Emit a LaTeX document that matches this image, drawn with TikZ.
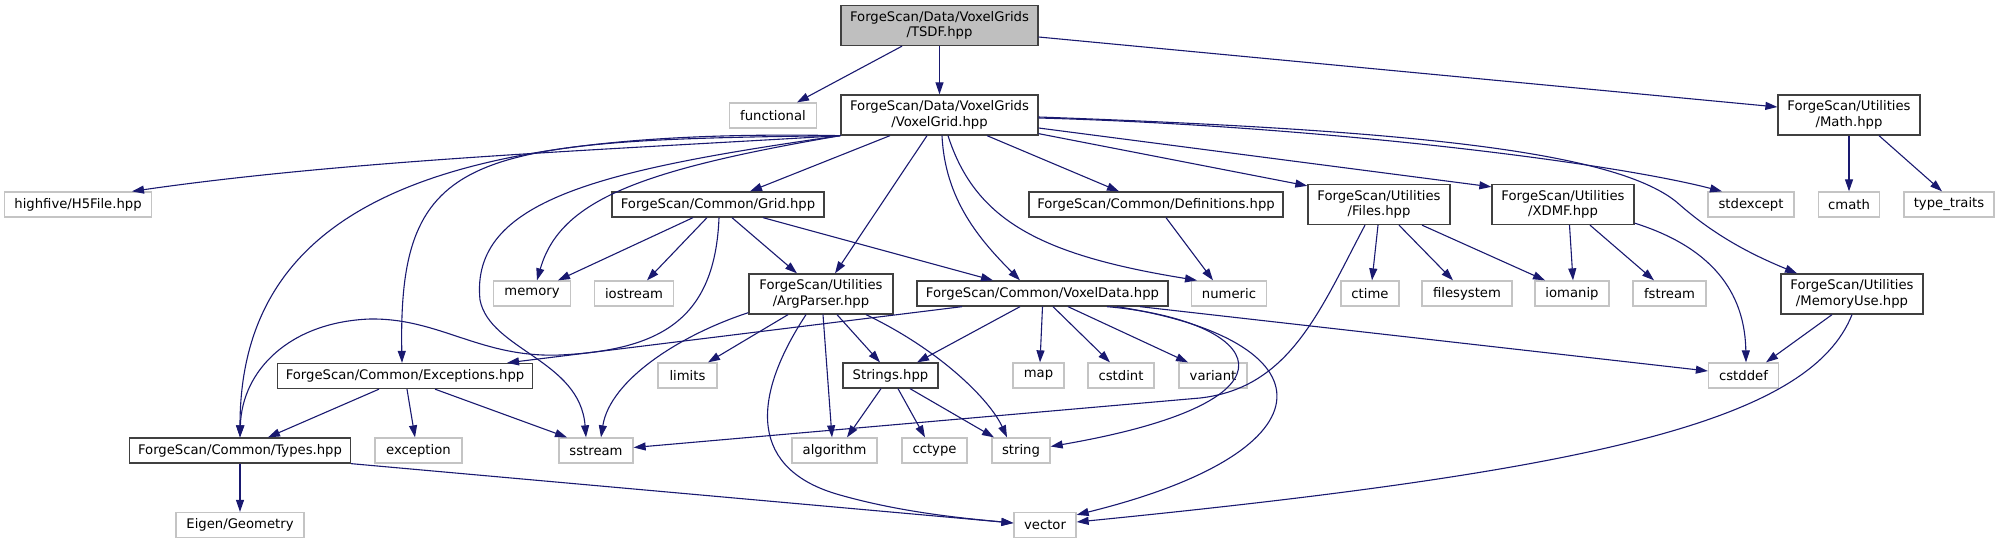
\documentclass[tikz,border=0pt]{standalone}
\usepackage{fontspec}
\setmainfont{DejaVu Sans}
\usepackage{tikz}
\usetikzlibrary{arrows.meta, positioning}
\usepackage{xcolor}
\definecolor{edgeblue}{RGB}{25, 25, 112}
\definecolor{boxgray}{RGB}{64, 64, 64}
\definecolor{extgray}{RGB}{196, 196, 196}
\definecolor{mainfill}{RGB}{191, 191, 191}
\newcommand{\dxfont}{\fontsize{13.2}{15.5}\selectfont}

\begin{document}
\begin{tikzpicture}[
    x=1pt, y=-1pt,
    block/.style={
        rectangle,
        draw=boxgray,
        line width=1.3pt,
        fill=white,
        align=center,
        inner sep=0pt,
        minimum height=25pt,
        font=\dxfont
    },
    tall/.style={minimum height=40pt},
    ext/.style={block, draw=extgray},
    line/.style={draw=edgeblue, line width=1.1pt, -{Triangle[length=12pt, width=8pt]}}
]
    \useasboundingbox (0,0) rectangle (2009,544);

    % Nodes
    \node [block, tall, fill=mainfill, minimum width=197pt] (tsdf) at (939.5,25.5) {ForgeScan/Data/VoxelGrids\\/TSDF.hpp};

    \node [ext, minimum width=87pt] (functional) at (773,115.5) {functional};
    \node [block, tall, minimum width=197pt] (voxelgrid) at (939.5,115) {ForgeScan/Data/VoxelGrids\\/VoxelGrid.hpp};
    \node [block, tall, minimum width=142pt] (math) at (1849,115) {ForgeScan/Utilities\\/Math.hpp};

    \node [ext, minimum width=147pt] (highfive) at (78,204.5) {highfive/H5File.hpp};
    \node [block, minimum width=212pt] (grid) at (718,204.5) {ForgeScan/Common/Grid.hpp};
    \node [block, minimum width=254pt] (defs) at (1156,204.5) {ForgeScan/Common/Definitions.hpp};
    \node [block, tall, minimum width=142pt] (files) at (1379,204.5) {ForgeScan/Utilities\\/Files.hpp};
    \node [block, tall, minimum width=142pt] (xdmf) at (1563,204.5) {ForgeScan/Utilities\\/XDMF.hpp};
    \node [ext, minimum width=86pt] (stdexcept) at (1751,204.5) {stdexcept};
    \node [ext, minimum width=61pt] (cmath) at (1849,204.5) {cmath};
    \node [ext, minimum width=90pt] (typetraits) at (1949,204.5) {type\_traits};

    \node [ext, minimum width=77pt] (memory) at (532,293.5) {memory};
    \node [ext, minimum width=79pt] (iostream) at (634,293.5) {iostream};
    \node [block, tall, minimum width=144pt] (argparser) at (821,294) {ForgeScan/Utilities\\/ArgParser.hpp};
    \node [block, minimum width=251pt] (voxeldata) at (1042.5,293.5) {ForgeScan/Common/VoxelData.hpp};
    \node [ext, minimum width=75pt] (numeric) at (1229,293.5) {numeric};
    \node [ext, minimum width=58pt] (ctime) at (1370,293.5) {ctime};
    \node [ext, minimum width=90pt] (filesystem) at (1467,293.5) {filesystem};
    \node [ext, minimum width=74pt] (iomanip) at (1572,293.5) {iomanip};
    \node [ext, minimum width=73pt] (fstream) at (1669.5,293.5) {fstream};
    \node [block, tall, minimum width=142pt] (memoryuse) at (1852,294) {ForgeScan/Utilities\\/MemoryUse.hpp};

    \node [block, minimum width=255pt] (exceptions) at (405,376) {ForgeScan/Common/Exceptions.hpp};
    \node [ext, minimum width=59pt] (limits) at (687.5,375.5) {limits};
    \node [block, minimum width=95pt] (strings) at (890.5,375.5) {Strings.hpp};
    \node [ext, minimum width=51pt] (map) at (1038.5,375.5) {map};
    \node [ext, minimum width=66pt] (cstdint) at (1121,375.5) {cstdint};
    \node [ext, minimum width=68pt] (variant) at (1213,375.5) {variant};
    \node [ext, minimum width=70pt] (cstddef) at (1743.5,375.5) {cstddef};

    \node [block, minimum width=221pt] (types) at (240,450.5) {ForgeScan/Common/Types.hpp};
    \node [ext, minimum width=87pt] (exception) at (418.5,450.5) {exception};
    \node [ext, minimum width=74pt] (sstream) at (596,450.5) {sstream};
    \node [ext, minimum width=85pt] (algorithm) at (834.5,450.5) {algorithm};
    \node [ext, minimum width=65pt] (cctype) at (934.5,450.5) {cctype};
    \node [ext, minimum width=58pt] (string) at (1021,450.5) {string};

    \node [ext, minimum width=128pt] (eigen) at (240,525) {Eigen/Geometry};
    \node [ext, minimum width=62pt] (vector) at (1045,525) {vector};

    % Edges from TSDF.hpp
    \path [line] ([xshift=-37.5pt]tsdf.south) -- ([xshift=24pt]functional.north);
    \path [line] (tsdf.south) -- (voxelgrid.north);
    \path [line] ([yshift=-11.5pt]tsdf.east) -- ([yshift=8pt]math.west);

    % Edges from VoxelGrid.hpp
    \path [line] (voxelgrid.south west) .. controls (600,150) and (350,160) .. ([xshift=54pt]highfive.north);
    \path [line] (voxelgrid.south west) .. controls (450,128) and (240,200) .. (types.north);
    \path [line] (voxelgrid.south west) .. controls (470,140) and (398,150) .. ([xshift=-3pt]exceptions.north);
    \path [line] (voxelgrid.south west) .. controls (600,170) and (470,200) .. (480,300)
        .. controls (490,350) and (580,360) .. ([xshift=-10pt]sstream.north);
    \path [line] (voxelgrid.south west) .. controls (640,170) and (560,200) .. ([xshift=5pt]memory.north);
    \path [line] ([xshift=-49.5pt]voxelgrid.south) -- ([xshift=32pt]grid.north);
    \path [line] ([xshift=-12.5pt]voxelgrid.south) -- ([xshift=14pt]argparser.north);
    \path [line] ([xshift=2.5pt]voxelgrid.south) .. controls (945,200) and (980,240) .. ([xshift=-22.5pt]voxeldata.north);
    \path [line] ([xshift=8.5pt]voxelgrid.south) .. controls (975,220) and (1040,255) .. ([xshift=-32pt]numeric.north);
    \path [line] ([xshift=47.5pt]voxelgrid.south) -- ([xshift=-37pt]defs.north);
    \path [line] ([yshift=2pt]voxelgrid.south east) -- ([yshift=-2pt]files.north west);
    \path [line] ([yshift=-13pt]voxelgrid.east) -- ([yshift=-3pt]xdmf.north west);
    \path [line] ([yshift=-3pt]voxelgrid.east) .. controls (1300,125) and (1600,160) .. ([xshift=-29pt]stdexcept.north);
    \path [line] ([yshift=-2pt]voxelgrid.east) .. controls (1400,130) and (1620,150) .. (1680,205)
        .. controls (1720,240) and (1760,258) .. ([xshift=-55pt]memoryuse.north);

    % Edges from Grid.hpp
    \path [line] ([xshift=-25pt]grid.south) -- ([xshift=26pt]memory.north);
    \path [line] ([xshift=-11pt]grid.south) -- ([xshift=13pt]iostream.north);
    \path [line] ([xshift=14pt]grid.south) -- ([xshift=-24pt]argparser.north);
    \path [line] ([xshift=45pt]grid.south) -- ([xshift=-49.5pt]voxeldata.north);
    \path [line] ([xshift=1pt]grid.south) .. controls (715,320) and (660,350) .. (560,355)
        .. controls (480,358) and (440,318) .. (370,319)
        .. controls (290,322) and (242,370) .. (types.north);

    % Edges from Definitions, Files, XDMF, MemoryUse, Math
    \path [line] ([xshift=10pt]defs.south) -- ([xshift=-16pt]numeric.north);
    \path [line] ([xshift=-1pt]files.south) -- ([xshift=2pt]ctime.north);
    \path [line] ([xshift=20pt]files.south) -- ([xshift=-14pt]filesystem.north);
    \path [line] ([xshift=43pt]files.south) -- ([xshift=-27pt]iomanip.north);
    \path [line] ([xshift=-14pt]files.south) .. controls (1320,310) and (1290,388) .. (1200,398) -- ([yshift=3pt]sstream.east);
    \path [line] ([xshift=6.5pt]xdmf.south) -- ([xshift=1pt]iomanip.north);
    \path [line] ([xshift=27pt]xdmf.south) -- ([xshift=-15.5pt]fstream.north);
    \path [line] ([yshift=2pt]xdmf.south east) .. controls (1720,250) and (1745,300) .. ([xshift=2.5pt]cstddef.north);
    \path [line] ([xshift=-20pt]memoryuse.south) -- ([xshift=22.5pt]cstddef.north);
    \path [line] (memoryuse.south) .. controls (1810,420) and (1600,470) .. ([yshift=3pt]vector.east);
    \path [line] (math.south) -- (cmath.north);
    \path [line] ([xshift=30pt]math.south) -- ([xshift=-7pt]typetraits.north);

    % Edges from VoxelData.hpp
    \path [line] ([xshift=-80.5pt]voxeldata.south) -- ([xshift=102pt]exceptions.north);
    \path [line] ([xshift=-22.5pt]voxeldata.south) -- ([xshift=26.5pt]strings.north);
    \path [line] (voxeldata.south) -- ([xshift=1.5pt]map.north);
    \path [line] ([xshift=10.5pt]voxeldata.south) -- ([xshift=-11pt]cstdint.north);
    \path [line] ([xshift=25.5pt]voxeldata.south) -- ([xshift=-25pt]variant.north);
    \path [line] ([xshift=64.5pt]voxeldata.south) .. controls (1260,320) and (1320,400) .. ([yshift=4pt]string.east);
    \path [line] ([xshift=74.5pt]voxeldata.south) .. controls (1330,340) and (1340,450) .. ([yshift=-3pt]vector.north east);
    \path [line] ([xshift=97.5pt]voxeldata.south) -- ([yshift=4.5pt]cstddef.west);

    % Edges from Strings.hpp and ArgParser.hpp
    \path [line] ([xshift=-9.5pt]strings.south) -- ([xshift=12.5pt]algorithm.north);
    \path [line] ([xshift=7.5pt]strings.south) -- ([xshift=-9.5pt]cctype.north);
    \path [line] ([xshift=19.5pt]strings.south) -- ([xshift=-27pt]string.north);
    \path [line] ([xshift=-33pt]argparser.south) -- ([xshift=20.5pt]limits.north);
    \path [line] ([xshift=16pt]argparser.south) -- ([xshift=-10.5pt]strings.north);
    \path [line] ([xshift=2pt]argparser.south) -- ([xshift=-2.5pt]algorithm.north);
    \path [line] ([xshift=45pt]argparser.south) .. controls (940,350) and (990,400) .. ([xshift=-14pt]string.north);
    \path [line] ([xshift=-15pt]argparser.south) .. controls (750,400) and (750,470) .. (840,495)
        .. controls (900,512) and (960,518) .. ([yshift=2pt]vector.west);
    \path [line] ([yshift=2pt]argparser.south west) .. controls (680,335) and (610,380) .. ([xshift=5pt]sstream.north);

    % Edges from Exceptions.hpp and Types.hpp
    \path [line] ([xshift=-26pt]exceptions.south) -- ([xshift=28pt]types.north);
    \path [line] ([xshift=2pt]exceptions.south) -- ([xshift=-3.5pt]exception.north);
    \path [line] ([xshift=30pt]exceptions.south) -- ([xshift=-29pt]sstream.north);
    \path [line] (types.south) -- (eigen.north);
    \path [line] (types.south east) -- ([yshift=2pt]vector.west);

\end{tikzpicture}
\end{document}
